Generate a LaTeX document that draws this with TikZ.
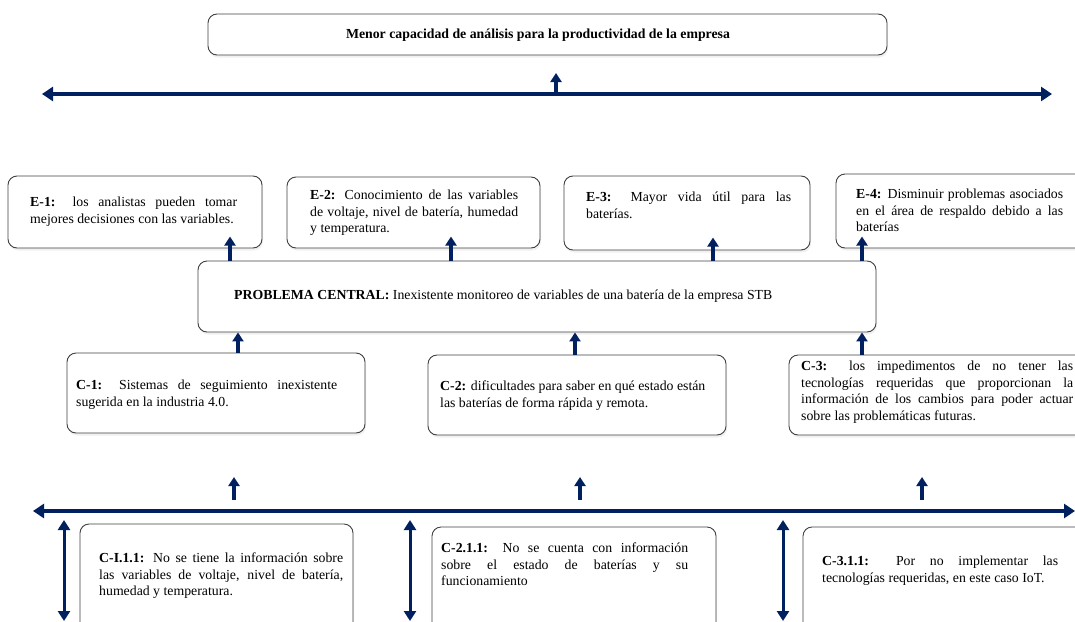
\documentclass[tikz,border=0pt]{standalone}
\usepackage{fontspec}
\setmainfont{Liberation Serif}
\usetikzlibrary{positioning,arrows.meta,shadows}
\definecolor{azul}{RGB}{0,32,96}

\tikzset{
  caja/.style={draw=black!75, line width=0.9pt, rounded corners=9pt, fill=white,
    drop shadow={opacity=0.12, shadow xshift=1pt, shadow yshift=-2.5pt}},
  texto/.style={anchor=north west, inner sep=0pt, align=justify,
    font=\fontsize{13.8}{16.5}\selectfont},
  flecha/.style={azul, line width=3.2pt, -{Triangle[width=11pt,length=9pt]}},
  linea/.style={azul, line width=4pt, {Triangle[width=14pt,length=11pt]}-{Triangle[width=14pt,length=11pt]}},
  doble/.style={azul, line width=3pt, {Triangle[width=12pt,length=10pt]}-{Triangle[width=12pt,length=10pt]}}
}

\begin{document}
\begin{tikzpicture}[x=1pt, y=-1pt]
  \useasboundingbox (0,0) rectangle (1075,621);
  \clip (0,0) rectangle (1075,621);

  % Efecto general
  \node[caja, minimum width=679pt, minimum height=41pt] (efecto) at (547.5,34.5) {};
  \node[font=\fontsize{13.8}{16.5}\selectfont\bfseries, inner sep=0pt] (tefecto) at (538,35)
    {Menor capacidad de análisis para la productividad de la empresa};
  \coordinate (lsi) at (42,94);
  \coordinate (lsd) at (1052,94);
  \draw[linea] (lsi) -- (lsd);
  \draw[flecha] (556,0 |- lsi) ++(0,2) -- (556,73);

  % Efectos
  \node[caja, minimum width=254pt, minimum height=72pt] (e1) at (135,212) {};
  \node[caja, minimum width=253pt, minimum height=71pt] (e2) at (413.5,212.5) {};
  \node[caja, minimum width=246pt, minimum height=74pt] (e3) at (687,213) {};
  \node[caja, minimum width=254pt, minimum height=74pt] (e4) at (963,211) {};
  \node[texto, text width=207pt] (te1) at (30,197)
    {\textbf{E-1:} los analistas pueden tomar\linebreak mejores decisiones con las variables.};
  \node[texto, text width=208pt] (te2) at (310,190)
    {\textbf{E-2:} Conocimiento de las variables\linebreak de voltaje, nivel de batería, humedad\linebreak y temperatura.};
  \node[texto, text width=205pt] (te3) at (586,192)
    {\textbf{E-3:} Mayor vida útil para las\linebreak baterías.};
  \node[texto, text width=207pt] (te4) at (856,189)
    {\textbf{E-4:} Disminuir problemas asociados\linebreak en el área de respaldo debido a las\linebreak baterías};

  % Problema central
  \node[caja, minimum width=678pt, minimum height=71pt] (pc) at (537,296.5) {};
  \node[texto, align=left] (tpc) at (234,290)
    {\textbf{PROBLEMA CENTRAL:} Inexistente monitoreo de variables de una batería de la empresa STB};
  \draw[flecha] (230,0 |- pc.north) -- ++(0,-24);
  \draw[flecha] (451,0 |- pc.north) -- ++(0,-24);
  \draw[flecha] (713,0 |- pc.north) -- ++(0,-23);
  \draw[flecha] (862,0 |- pc.north) -- ++(0,-24);

  % Causas
  \node[caja, minimum width=298pt, minimum height=80pt] (c1) at (216,393) {};
  \node[caja, minimum width=298pt, minimum height=80pt] (c2) at (577,395) {};
  \node[caja, minimum width=301pt, minimum height=80pt] (c3) at (939.5,395) {};
  \node[texto, text width=261pt] (tc1) at (76,380)
    {\textbf{C-1:} Sistemas de seguimiento inexistente\linebreak sugerida en la industria 4.0.};
  \node[texto, align=left] (tc2) at (440,381)
    {\textbf{C-2:} dificultades para saber en qué estado están\\ las baterías de forma rápida y remota.};
  \node[texto, text width=272pt] (tc3) at (801,361)
    {\textbf{C-3:} los impedimentos de no tener las\linebreak tecnologías requeridas que proporcionan la\linebreak información de los cambios para poder actuar\linebreak sobre las problemáticas futuras.};
  \draw[flecha] (238,0 |- c1.north) -- (238,0 |- pc.south);
  \draw[flecha] (575,0 |- c2.north) -- (575,0 |- pc.south);
  \draw[flecha] (862,0 |- c3.north) -- (862,0 |- pc.south);

  % Subcausas
  \foreach \x in {234,580,922} {
    \draw[flecha] (\x,500) -- (\x,477);
  }
  \coordinate (lii) at (33,511);
  \coordinate (lid) at (1075,511);
  \draw[linea] (lii) -- (lid);
  \foreach \x in {64,410,783} {
    \draw[doble] (\x,520) -- (\x,621);
  }
  \node[caja, minimum width=273pt, minimum height=116pt] (s1) at (216.5,582) {};
  \node[caja, minimum width=284pt, minimum height=113pt] (s2) at (574,583.5) {};
  \node[caja, minimum width=287pt, minimum height=113pt] (s3) at (946.5,583.5) {};
  \node[texto, text width=244pt] (ts1) at (99,553)
    {\textbf{C-I.1.1:} No se tiene la información sobre\linebreak las variables de voltaje, nivel de batería,\linebreak humedad y temperatura.};
  \node[texto, text width=247pt] (ts2) at (441,543)
    {\textbf{C-2.1.1:} No se cuenta con información\linebreak sobre el estado de baterías y su\linebreak funcionamiento};
  \node[texto, text width=236pt] (ts3) at (822,556)
    {\textbf{C-3.1.1:} Por no implementar las\linebreak tecnologías requeridas, en este caso IoT.};
\end{tikzpicture}
\end{document}
